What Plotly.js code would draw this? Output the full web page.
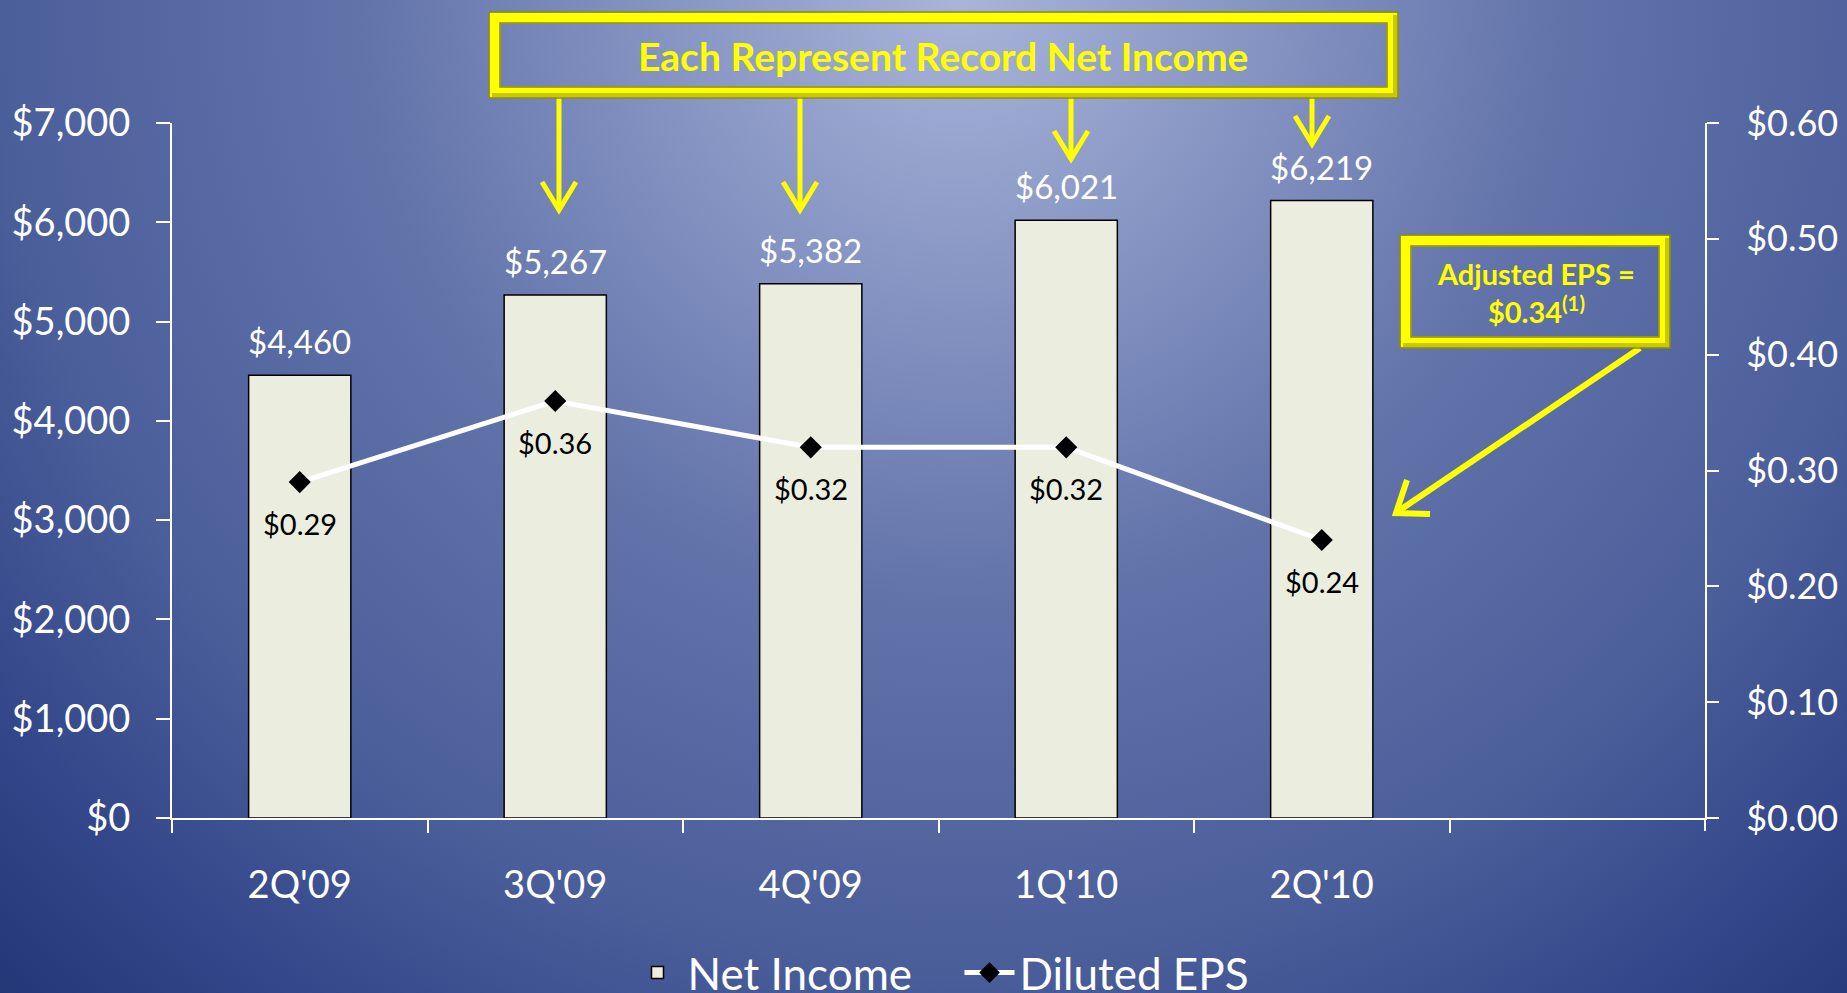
<!DOCTYPE html>
<html>
<head>
<meta charset="utf-8">
<script src="https://cdn.plot.ly/plotly-3.0.1.min.js"></script>
<style>
html, body { margin:0; padding:0; width:1847px; height:993px; overflow:hidden;
  background: radial-gradient(circle 1400px at 52% 0%, #A8B4D8 0%, #8896C4 20%, #6273AA 43%, #4A5E9A 69%, #34478A 85%, #223575 100%); }
#chart { width:1847px; height:993px; }
</style>
</head>
<body>
<div id="chart"></div>
<script>
// ---- data ----
const categories = ["2Q'09", "3Q'09", "4Q'09", "1Q'10", "2Q'10"];
const netIncome = [4460, 5267, 5382, 6021, 6219];
const dilutedEPS = [0.29, 0.36, 0.32, 0.32, 0.24];
const leftTickVals = [0, 1000, 2000, 3000, 4000, 5000, 6000, 7000];
const rightTickVals = [0, 0.1, 0.2, 0.3, 0.4, 0.5, 0.6];
const calloutTitle = "Each Represent Record Net Income";
const calloutEPS = ["Adjusted EPS =", "$0.34<sup>(1)</sup>"];

// ---- layout geometry ----
const W = 1847, H = 993;
const L = 172, R = 1705, T = 123, B = 818;
const px = x => (x - L) / (R - L);
const py = y => (B - y) / (B - T);
const FONT = "Lato, 'Open Sans', sans-serif";
const YEL = "#FFFF00";
const OLIVE = "#8C8C10";

const fmtMoney = v => "$" + v.toLocaleString("en-US");
const fmtEPS = v => "$" + v.toFixed(2);

const traces = [
  {
    type: "bar", name: "Net Income", x: categories, y: netIncome,
    marker: { color: "#EBEEDF", line: { color: "#000000", width: 1.5 } },
    hoverinfo: "skip"
  },
  {
    type: "scatter", mode: "lines+markers", name: "Diluted EPS",
    x: categories, y: dilutedEPS, yaxis: "y2",
    line: { color: "#FFFFFF", width: 5 },
    marker: { symbol: "diamond", size: 17, color: "#000000" },
    hoverinfo: "skip"
  }
];

const annotations = [];
categories.forEach((c, i) => {
  annotations.push({
    x: c, y: netIncome[i], xref: "x", yref: "y", text: fmtMoney(netIncome[i]),
    showarrow: false, yanchor: "bottom", yshift: 12,
    font: { family: FONT, size: 33, color: "#FFFFFF" }
  });
  annotations.push({
    x: c, y: dilutedEPS[i], xref: "x", yref: "y2", text: fmtEPS(dilutedEPS[i]),
    showarrow: false, yanchor: "top", yshift: -22,
    font: { family: FONT, size: 29, color: "#000000" }
  });
});
annotations.push({
  x: px(943), y: py(56), xref: "paper", yref: "paper", text: "<b>" + calloutTitle + "</b>",
  showarrow: false, xanchor: "center", yanchor: "middle",
  font: { family: FONT, size: 39, color: YEL }
});
annotations.push({
  x: px(1536), y: py(292), xref: "paper", yref: "paper",
  text: calloutEPS.map(s => "<b>" + s + "</b>").join("<br>"),
  showarrow: false, xanchor: "center", yanchor: "middle",
  font: { family: FONT, size: 29, color: YEL }
});

function rect(x0, y0, x1, y1, color, width) {
  return { type: "rect", xref: "paper", yref: "paper", x0: px(x0), x1: px(x1), y0: py(y1), y1: py(y0),
    line: { color: color, width: width }, fillcolor: "rgba(0,0,0,0)", layer: "above" };
}
function path(pts, color, width) {
  const d = pts.map((p, i) => (i === 0 ? "M" : "L") + px(p[0]) + "," + py(p[1])).join(" ");
  return { type: "path", xref: "paper", yref: "paper", path: d, line: { color: color, width: width } };
}
function framedBox(x0, y0, x1, y1) {
  return [
    rect(x0 + 6, y0 + 6, x1 - 6, y1 - 6, YEL, 11),
    path([[x0 + 3, y1 - 3], [x1 - 3, y1 - 3], [x1 - 3, y0 + 3]], "#C8C800", 4),
    rect(x0, y0, x1, y1, OLIVE, 1.5),
    rect(x0 + 11, y0 + 11, x1 - 11, y1 - 11, OLIVE, 1.5)
  ];
}
function downArrow(x, yTop, yTip) {
  return [
    path([[x, yTop], [x, yTip - 2]], YEL, 5),
    path([[x - 17, yTip - 28], [x, yTip], [x + 17, yTip - 28]], YEL, 5)
  ];
}

const shapes = [];
shapes.push(...downArrow(559, 92, 210));
shapes.push(...downArrow(800, 92, 210));
shapes.push(...downArrow(1071, 92, 159));
shapes.push(...downArrow(1312, 92, 144));
shapes.push(...framedBox(489, 12, 1398, 98));
// adjusted EPS callout
shapes.push(path([[1640, 348], [1397, 512]], YEL, 6));
shapes.push(path([[1407, 480], [1396, 513], [1430, 514]], YEL, 6));
shapes.push(...framedBox(1400, 235, 1670, 348));
// closing category-boundary tick at the right end of the x axis
shapes.push(path([[R, B], [R, B + 13]], "#FFFFFF", 2));

const layout = {
  width: W, height: H,
  paper_bgcolor: "rgba(0,0,0,0)", plot_bgcolor: "rgba(0,0,0,0)",
  margin: { l: L, r: W - R, t: T, b: H - B, pad: 0, autoexpand: false },
  font: { family: FONT, color: "#FFFFFF" },
  showlegend: true,
  bargap: 0.6,
  xaxis: {
    type: "category", range: [-0.5, 5.5], fixedrange: true,
    showline: true, linecolor: "#FFFFFF", linewidth: 2,
    ticks: "outside", tickson: "boundaries", ticklen: 13, tickwidth: 2, tickcolor: "#FFFFFF",
    showgrid: false, zeroline: false,
    tickfont: { family: FONT, size: 38, color: "#FFFFFF" }, ticklabelstandoff: 32
  },
  yaxis: {
    range: [0, 7000], tickmode: "array", tickvals: leftTickVals, ticktext: leftTickVals.map(fmtMoney),
    showline: true, linecolor: "#FFFFFF", linewidth: 2,
    ticks: "outside", ticklen: 14, tickwidth: 2, tickcolor: "#FFFFFF",
    showgrid: false, zeroline: false,
    tickfont: { family: FONT, size: 38, color: "#FFFFFF" }, ticklabelstandoff: 18
  },
  yaxis2: {
    range: [0, 0.6], tickmode: "array", tickvals: rightTickVals, ticktext: rightTickVals.map(fmtEPS),
    overlaying: "y", side: "right",
    showline: true, linecolor: "#FFFFFF", linewidth: 2,
    ticks: "outside", ticklen: 12, tickwidth: 2, tickcolor: "#FFFFFF",
    showgrid: false, zeroline: false,
    tickfont: { family: FONT, size: 36, color: "#FFFFFF" }, ticklabelstandoff: 20
  },
  legend: {
    orientation: "h", x: 0.5137, xanchor: "center", y: py(973), yanchor: "middle",
    font: { family: FONT, size: 44, color: "#FFFFFF" }, bgcolor: "rgba(0,0,0,0)",
    itemwidth: 50, traceorder: "normal", entrywidth: 267
  },
  annotations: annotations,
  shapes: shapes
};

Plotly.newPlot("chart", traces, layout, { displayModeBar: false, staticPlot: true });
</script>
</body>
</html>
